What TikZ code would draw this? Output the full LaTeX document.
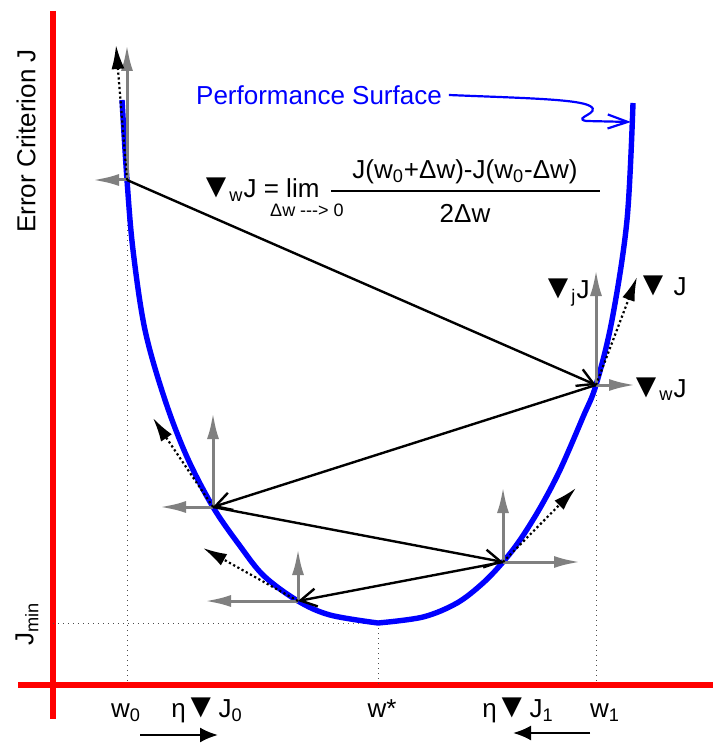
\documentclass[tikz,border=0pt]{standalone}
\usepackage{fontspec}
\usepackage{graphicx}
\setmainfont{Liberation Sans}
\usetikzlibrary{arrows.meta}

\newcommand\gradtri{\kern-0.24em\scalebox{1.32}{▼}\kern-0.14em}

\begin{document}
\begin{tikzpicture}[x=0.5pt, y=-0.5pt,
    font=\fontsize{13}{15}\selectfont,
    axis/.style={draw=red, line width=3pt},
    surface/.style={draw=blue, line width=2.7pt, line join=round},
    guide/.style={draw=black!70, line width=0.5pt, dotted},
    comp/.style={draw=gray, line width=1.5pt, -{Latex[length=13pt, width=6pt]}},
    tangent/.style={draw=black, line width=1.1pt, dash pattern=on 1.1pt off 1.3pt,
      -{Latex[length=12pt, width=6.5pt]}},
    update/.style={draw=black, line width=1.2pt, -{Straight Barb[length=8pt, width=9pt]}},
    move/.style={draw=black, line width=1.1pt, -{Latex[length=9pt, width=7.5pt]}}]

    \useasboundingbox (0,0) rectangle (713,743);

    % axes
    \coordinate (ytop) at (53,11);
    \coordinate (ybot) at (53,719);
    \coordinate (xl) at (18,685);
    \coordinate (xr) at (713,685);
    \draw[axis] (ytop) -- (ybot);
    \draw[axis] (xl) -- (xr);

    % points on the surface
    \coordinate (p0) at (127,180);
    \coordinate (p1) at (596,385);
    \coordinate (p2) at (213,507);
    \coordinate (p3) at (503,562);
    \coordinate (p4) at (298,601);
    \coordinate (wstar) at (378,623);

    \draw[guide] (p0) -- (p0 |- xl);
    \draw[guide] (p1) -- (p1 |- xl);
    \draw[guide] (wstar) -- (wstar |- xl);
    \draw[guide] (ytop |- wstar) -- (wstar);

    % performance surface
    \draw[surface] plot[smooth, tension=0.55] coordinates {(122,100) (127,180) (133,250)
      (145,330) (165,400) (187,457) (213,507) (240,546) (264,576) (298,601) (330,615) (378,623)}
      -- plot[smooth, tension=0.55] coordinates {(378,623) (423,617) (457,603) (483,583)
      (503,562) (520,540) (540,508) (560,470) (583,417) (596,385) (612,320) (627,220) (633,103)};

    % gradient components
    \coordinate (p0up) at (127,45);   \coordinate (p0side) at (93,180);  \coordinate (p0tan) at (116,45);
    \coordinate (p1up) at (596,270);  \coordinate (p1side) at (635,385); \coordinate (p1tan) at (637,277);
    \coordinate (p2up) at (213,413);  \coordinate (p2side) at (160,507); \coordinate (p2tan) at (153,418);
    \coordinate (p3up) at (503,487);  \coordinate (p3side) at (580,562); \coordinate (p3tan) at (576,488);
    \coordinate (p4up) at (298,549);  \coordinate (p4side) at (205,601); \coordinate (p4tan) at (203,548);

    \draw[comp] (p0) -- (p0up);  \draw[comp] (p0) -- (p0side);
    \draw[comp] (p1) -- (p1up);  \draw[comp] (p1) -- (p1side);
    \draw[comp] (p2) -- (p2up);  \draw[comp] (p2) -- (p2side);
    \draw[comp] (p3) -- (p3up);  \draw[comp] (p3) -- (p3side);
    \draw[comp] (p4) -- (p4up);  \draw[comp] (p4) -- (p4side);

    \draw[tangent] (p0) -- (p0tan);
    \draw[tangent] (p1) -- (p1tan);
    \draw[tangent] (p2) -- (p2tan);
    \draw[tangent] (p3) -- (p3tan);
    \draw[tangent] (p4) -- (p4tan);

    % iterations
    \draw[update] (p0) -- (p1);
    \draw[update] (p1) -- (p2);
    \draw[update] (p2) -- (p3);
    \draw[update] (p3) -- (p4);

    % labels
    \node[rotate=90] (ylab) at (26,141) {Error Criterion J};
    \node[rotate=90] (jmin) at (27,624) {J\textsubscript{min}};

    \node[text=blue] (ps) at (319,95) {Performance Surface};
    \coordinate (surf) at (631,122);
    \draw[blue, line width=1.1pt, -{Straight Barb[length=10pt, width=7pt]}] (ps.east)
      .. controls (520,98) and (578,99) .. (590,106)
      .. controls (602,113) and (572,118) .. (586,121) -- (surf);

    \node[anchor=base west, inner sep=0pt] (gradw) at (205,198) {\gradtri\textsubscript{w}J = lim};
    \node[anchor=base, font=\fontsize{9}{11}\selectfont] (limsub) at (307,216) {Δw -{}-{}-> 0};
    \node[anchor=base] (num) at (465,178) {J(w\textsubscript{0}+Δw)-J(w\textsubscript{0}-Δw)};
    \node[anchor=base] (den) at (465,222) {2Δw};
    \coordinate (barl) at (331,191);
    \coordinate (barr) at (600,191);
    \draw[line width=1pt] (barl) -- (barr);

    \node[anchor=base west, inner sep=0pt] (gj) at (547,298) {\gradtri\textsubscript{j}J};
    \node[anchor=base west, inner sep=0pt] (gt) at (642,295) {\gradtri\ J};
    \node[anchor=base west, inner sep=0pt] (gw) at (635,397) {\gradtri\textsubscript{w}J};

    \node[anchor=base] (w0) at (126,717) {w\textsubscript{0}};
    \node[anchor=base] (eta0) at (207,717) {η\,\gradtri\,J\textsubscript{0}};
    \node[anchor=base] (ws) at (382,717) {w*};
    \node[anchor=base] (eta1) at (518,717) {η\,\gradtri\,J\textsubscript{1}};
    \node[anchor=base] (w1) at (605,717) {w\textsubscript{1}};

    \coordinate (m0a) at (140,735);
    \coordinate (m0b) at (218,735);
    \coordinate (m1a) at (590,733);
    \coordinate (m1b) at (513,733);
    \draw[move] (m0a) -- (m0b);
    \draw[move] (m1a) -- (m1b);
  \end{tikzpicture}
\end{document}
